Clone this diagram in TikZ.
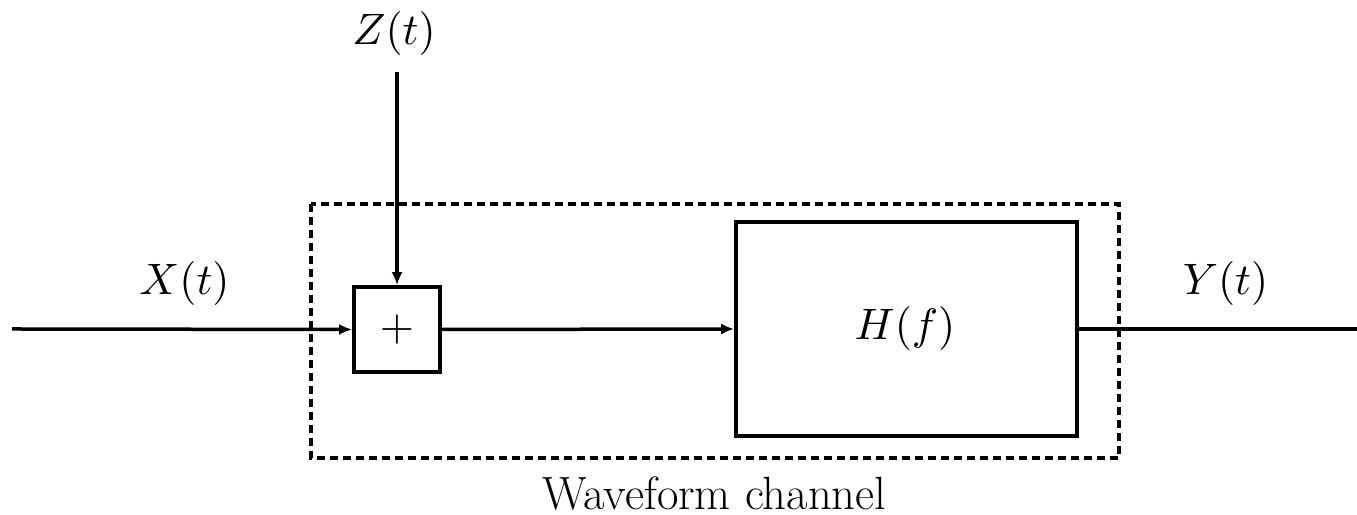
\documentclass[tikz,border=0pt]{standalone}
\usetikzlibrary{arrows.meta}
\newcommand{\mlbl}[1]{\scalebox{0.88}{$#1$}}
\begin{document}
\begin{tikzpicture}[x=0.2pt,y=-0.2pt,
  blk/.style={draw,line width=0.75pt,inner sep=0pt},
  wire/.style={line width=0.7pt},
  arr/.style={wire,-{Latex[length=2.6pt,width=2.2pt]}},
  lbl/.style={inner sep=0pt,anchor=base}]
\useasboundingbox (0,0) rectangle (1357,515);
\node[blk,minimum width=17.2pt,minimum height=17pt] (add) at (397,329.5) {\mlbl{+}};
\node[blk,minimum width=68.2pt,minimum height=42.8pt] (H) at (906.5,329) {};
\node[lbl] (Hl) at (905,340) {\mlbl{H(f)}};
\draw[line width=0.75pt,dash pattern=on 1.6pt off 1pt] (311,204) rectangle (1119,458);
\coordinate (in) at (12,329);
\coordinate (out) at (1357,329);
\coordinate (ztop) at (397,72);
\node[lbl] (X) at (184.5,295) {\mlbl{X(t)}};
\node[lbl] (Y) at (1225.5,295) {\mlbl{Y(t)}};
\node[lbl] (Z) at (394,45) {\mlbl{Z(t)}};
\node[lbl] (W) at (714.5,510) {\scalebox{0.54}{\fontsize{17.28pt}{20pt}\selectfont Waveform channel}};
\draw[arr] (in) -- (add.west);
\draw[arr] (ztop) -- (add.north);
\draw[arr] (add.east) -- (H.west);
\draw[wire] (H.east) -- (out);
\end{tikzpicture}
\end{document}
